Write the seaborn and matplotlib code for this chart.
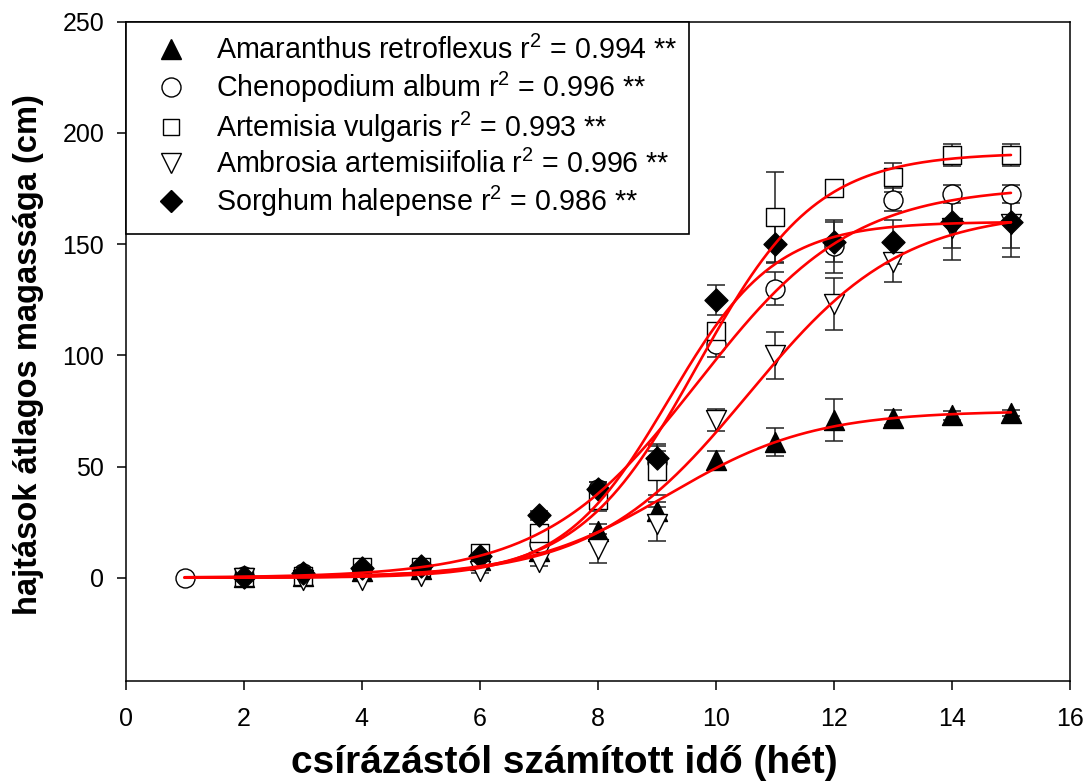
import numpy as np
import pandas as pd
import matplotlib
matplotlib.use("Agg")
import matplotlib.pyplot as plt
from matplotlib.lines import Line2D
import seaborn as sns

# ---------------- data ----------------
species = ["Amaranthus retroflexus", "Chenopodium album", "Artemisia vulgaris",
           "Ambrosia artemisiifolia", "Sorghum halepense"]
r2_text = ["0.994", "0.996", "0.993", "0.996", "0.986"]

weeks_amaranthus = [2, 3, 4, 5, 6, 7, 8, 9, 10, 11, 12, 13, 14, 15]
height_amaranthus = [0.5, 1, 3, 4, 8, 12, 21, 30, 53, 61, 71, 72, 73, 74]
sd_amaranthus = [0.5, 0.5, 1, 1, 1, 2, 3, 4, 4, 6.5, 9.5, 3.4, 2, 1.5]

weeks_chenopodium = [1, 2, 3, 4, 5, 6, 7, 8, 9, 10, 11, 12, 13, 14, 15]
height_chenopodium = [0, 1, 2, 4, 5, 10, 15, 40, 52, 105, 130, 149, 170, 172.5, 172.5]
sd_chenopodium = [0.3, 0.5, 0.5, 1, 1, 1.5, 2, 3, 5, 6, 7.3, 12, 5, 4, 4]

weeks_artemisia = [2, 3, 4, 5, 6, 7, 8, 9, 10, 11, 12, 13, 14, 15]
height_artemisia = [0.5, 1, 5, 5, 11, 20, 35, 48, 111, 162, 175, 180, 190, 190]
sd_artemisia = [0.5, 0.5, 1, 1, 1.5, 2, 5, 11, 3, 20.5, 2, 6.5, 5, 5]

weeks_ambrosia = [2, 3, 4, 5, 6, 7, 8, 9, 10, 11, 12, 13, 14, 15]
height_ambrosia = [0, -1, -1, 1, 3, 7, 13, 24, 71, 100, 123, 142, 157, 159]
sd_ambrosia = [0.5, 0.5, 0.5, 1, 1, 1.5, 6.5, 7.6, 5, 10.5, 11.5, 9, 14, 15]

weeks_sorghum = [2, 3, 4, 5, 6, 7, 8, 9, 10, 11, 12, 13, 14, 15]
height_sorghum = [0.5, 2, 4.5, 5.5, 10, 28, 40, 54, 125, 150, 151, 151, 160, 160]
sd_sorghum = [0.5, 0.5, 1, 1, 1.5, 2, 3, 6, 6.7, 8, 9, 10, 12, 12]

# fitted 3-parameter sigmoid: a / (1 + exp(-(x - x0) / b))
fit_a = [75, 176, 191, 165, 160]
fit_x0 = [9.2, 9.7, 9.69, 10.55, 9.2]
fit_b = [1.23, 1.31, 1.01, 1.3, 0.9]

x_ticks = [0, 2, 4, 6, 8, 10, 12, 14, 16]
y_ticks = [0, 50, 100, 150, 200, 250]

# ---------------- style ----------------
sns.set_theme(style="ticks")
plt.rcParams["font.family"] = ["Liberation Sans", "DejaVu Sans"]
plt.rcParams["mathtext.fontset"] = "custom"
plt.rcParams["mathtext.rm"] = "Liberation Sans"
plt.rcParams["mathtext.it"] = "Liberation Sans:italic"
plt.rcParams["mathtext.bf"] = "Liberation Sans:bold"
plt.rcParams["text.color"] = "black"
plt.rcParams["axes.labelcolor"] = "black"
plt.rcParams["xtick.color"] = "black"
plt.rcParams["ytick.color"] = "black"
plt.rcParams["legend.labelcolor"] = "black"

fig = plt.figure(figsize=(10.86, 7.83), dpi=100)
ax = fig.add_axes([0.11575, 0.13027, 0.8695, 0.84227])

weeks = [weeks_amaranthus, weeks_chenopodium, weeks_artemisia, weeks_ambrosia, weeks_sorghum]
heights = [height_amaranthus, height_chenopodium, height_artemisia, height_ambrosia, height_sorghum]
sds = [sd_amaranthus, sd_chenopodium, sd_artemisia, sd_ambrosia, sd_sorghum]
markers = ["^", "o", "s", "v", "D"]
faces = ["black", "white", "white", "white", "black"]
sizes = [207, 187, 150, 207, 137]
msizes = [14.4, 13.7, 12.2, 14.4, 11.7]

for wk, h, sd in zip(weeks, heights, sds):
    ax.errorbar(wk, h, yerr=sd, fmt="none", ecolor="#222222", elinewidth=1.1,
                capsize=6.5, capthick=1.1, zorder=2)

for wk, h, m, fc, s in zip(weeks, heights, markers, faces, sizes):
    df = pd.DataFrame({"x": wk, "y": h})
    sns.scatterplot(data=df, x="x", y="y", marker=m, s=s, color=fc,
                    edgecolor="black", linewidth=1.0, zorder=3, ax=ax, legend=False)

for a, x0, b in zip(fit_a, fit_x0, fit_b):
    xf = np.linspace(1, 15, 300)
    yf = a / (1 + np.exp(-(xf - x0) / b))
    sns.lineplot(x=xf, y=yf, color="red", linewidth=1.9, zorder=4, ax=ax)

ax.set_xlim(0, 16)
ax.set_ylim(-46.4, 250)
ax.set_xticks(x_ticks)
ax.set_yticks(y_ticks)
ax.tick_params(axis="both", direction="out", length=6.5, width=1.1,
               labelsize=18, colors="black")
ax.tick_params(axis="x", pad=12.5)
ax.tick_params(axis="y", pad=9)
ax.tick_params(top=False, right=False)
for sp in ax.spines.values():
    sp.set_visible(True)
    sp.set_linewidth(1.1)
    sp.set_color("black")

ax.set_xlabel("csírázástól számított idő (hét)", fontsize=28, fontweight="bold", color="black")
ax.set_ylabel("hajtások átlagos magassága (cm)", fontsize=23.5, fontweight="bold", color="black")
ax.xaxis.set_label_coords(0.465, -0.125)
ax.xaxis.label.set_va("center")
ax.yaxis.set_label_coords(-0.103, 0.495)
ax.yaxis.label.set_va("center")

handles = [Line2D([], [], marker=m, linestyle="none", markerfacecolor=fc,
                  markeredgecolor="black", markersize=ms, markeredgewidth=1.0)
           for m, fc, ms in zip(markers, faces, msizes)]
labels = [f"{sp} r$^{{2}}$ = {r} **" for sp, r in zip(species, r2_text)]
leg = ax.legend(handles, labels, loc="upper left", bbox_to_anchor=(0, 0, 0.5965, 1),
                mode="expand", borderaxespad=0, frameon=True, fancybox=False,
                edgecolor="black", fontsize=20.6, handlelength=2.2, borderpad=0.5,
                handletextpad=0.44, labelspacing=0.17, framealpha=1)
leg.get_frame().set_linewidth(1.2)
leg.set_zorder(10)
for t in leg.get_texts():
    t.set_color("black")

fig.savefig("out.png", dpi=100)
